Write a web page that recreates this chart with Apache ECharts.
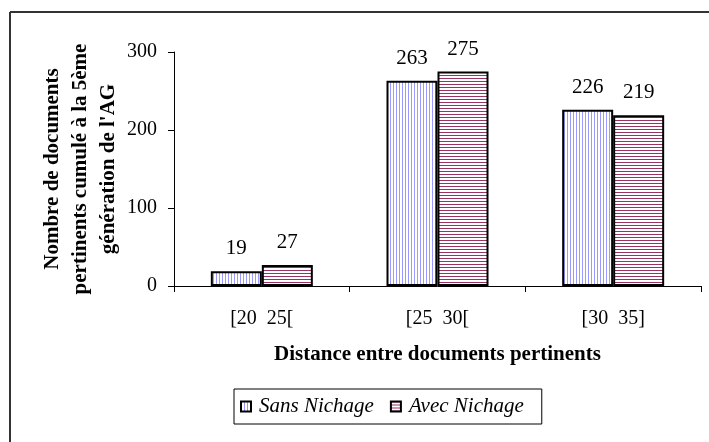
<!DOCTYPE html>
<html>
<head>
<meta charset="utf-8">
<script src="https://cdn.jsdelivr.net/npm/echarts@6/dist/echarts.min.js"></script>
<style>
html, body { margin: 0; padding: 0; background: #fff; }
#main { width: 709px; height: 442px; }
</style>
</head>
<body>
<div id="main"></div>
<script>
var categories = ['[20  25[', '[25  30[', '[30  35]'];
var sansNichage = [19, 263, 226];
var avecNichage = [27, 275, 219];
var yTicks = [0, 100, 200, 300];
var yTitle = 'Nombre de documents\npertinents cumulé à la 5ème\ngénération de l\'AG';

// hachures facon Excel
function hatch(dir, color) {
	var c = document.createElement('canvas');
	c.width = 3; c.height = 3;
	var g = c.getContext('2d');
	g.fillStyle = '#fff';
	g.fillRect(0, 0, 3, 3);
	g.fillStyle = color;
	if (dir == 'v') g.fillRect(0, 0, 1, 3);
	else g.fillRect(0, 0, 3, 1);
	return { image: c, repeat: 'repeat' };
}

var font = '"Liberation Serif", "Times New Roman", serif';
var chart = echarts.init(document.getElementById('main'));

chart.setOption({
	animation: false,
	textStyle: { fontFamily: font, color: '#000' },
	grid: { left: 174, right: 8, top: 52, bottom: 156 },
	graphic: [
		{ type: 'line', shape: { x1: 10, y1: 12, x2: 709, y2: 12 }, style: { stroke: '#333', lineWidth: 2 } },
		{ type: 'line', shape: { x1: 10, y1: 12, x2: 10, y2: 442 }, style: { stroke: '#333', lineWidth: 2 } },
		{
			type: 'text', x: 81, y: 169, rotation: Math.PI / 2,
			style: {
				text: yTitle, fill: '#000', font: 'bold 21px ' + font,
				lineHeight: 28, align: 'center', verticalAlign: 'middle'
			}
		}
	],
	legend: {
		left: 234, top: 389,
		padding: [7, 18, 7, 6],
		itemGap: 16,
		itemWidth: 10, itemHeight: 10,
		borderColor: '#000', borderWidth: 1,
		itemStyle: { borderColor: '#000', borderWidth: 2 },
		textStyle: { fontFamily: font, fontStyle: 'italic', fontSize: 21, color: '#000', padding: [0, 0, 0, 3] },
		data: [{ name: 'Sans Nichage', icon: 'rect' }, { name: 'Avec Nichage', icon: 'rect' }]
	},
	xAxis: {
		type: 'category',
		data: categories,
		name: 'Distance entre documents pertinents',
		nameLocation: 'middle',
		nameGap: 58,
		nameTextStyle: { fontFamily: font, fontWeight: 'bold', fontSize: 21, color: '#000' },
		axisLine: { lineStyle: { color: '#000', width: 1 } },
		axisTick: { show: true, length: 6, lineStyle: { color: '#000' } },
		axisLabel: { fontFamily: font, fontSize: 20, color: '#000', margin: 23 }
	},
	yAxis: {
		type: 'value',
		min: yTicks[0], max: yTicks[yTicks.length - 1], interval: 100,
		axisLine: { show: true, lineStyle: { color: '#000', width: 1 } },
		axisTick: { show: true, length: 6, lineStyle: { color: '#000' } },
		splitLine: { show: false },
		axisLabel: { fontFamily: font, fontSize: 20, color: '#000', margin: 17 }
	},
	series: [
		{
			name: 'Sans Nichage',
			type: 'bar',
			data: sansNichage,
			barWidth: 51,
			barGap: '0%',
			itemStyle: { color: hatch('v', '#9999ff'), borderColor: '#000', borderWidth: 2 },
			label: { show: true, position: 'top', distance: 12, fontFamily: font, fontSize: 21, color: '#000' }
		},
		{
			name: 'Avec Nichage',
			type: 'bar',
			data: avecNichage,
			barWidth: 51,
			barGap: '0%',
			itemStyle: { color: hatch('h', '#993366'), borderColor: '#000', borderWidth: 2 },
			label: { show: true, position: 'top', distance: 12, fontFamily: font, fontSize: 21, color: '#000' }
		}
	]
});
</script>
</body>
</html>
